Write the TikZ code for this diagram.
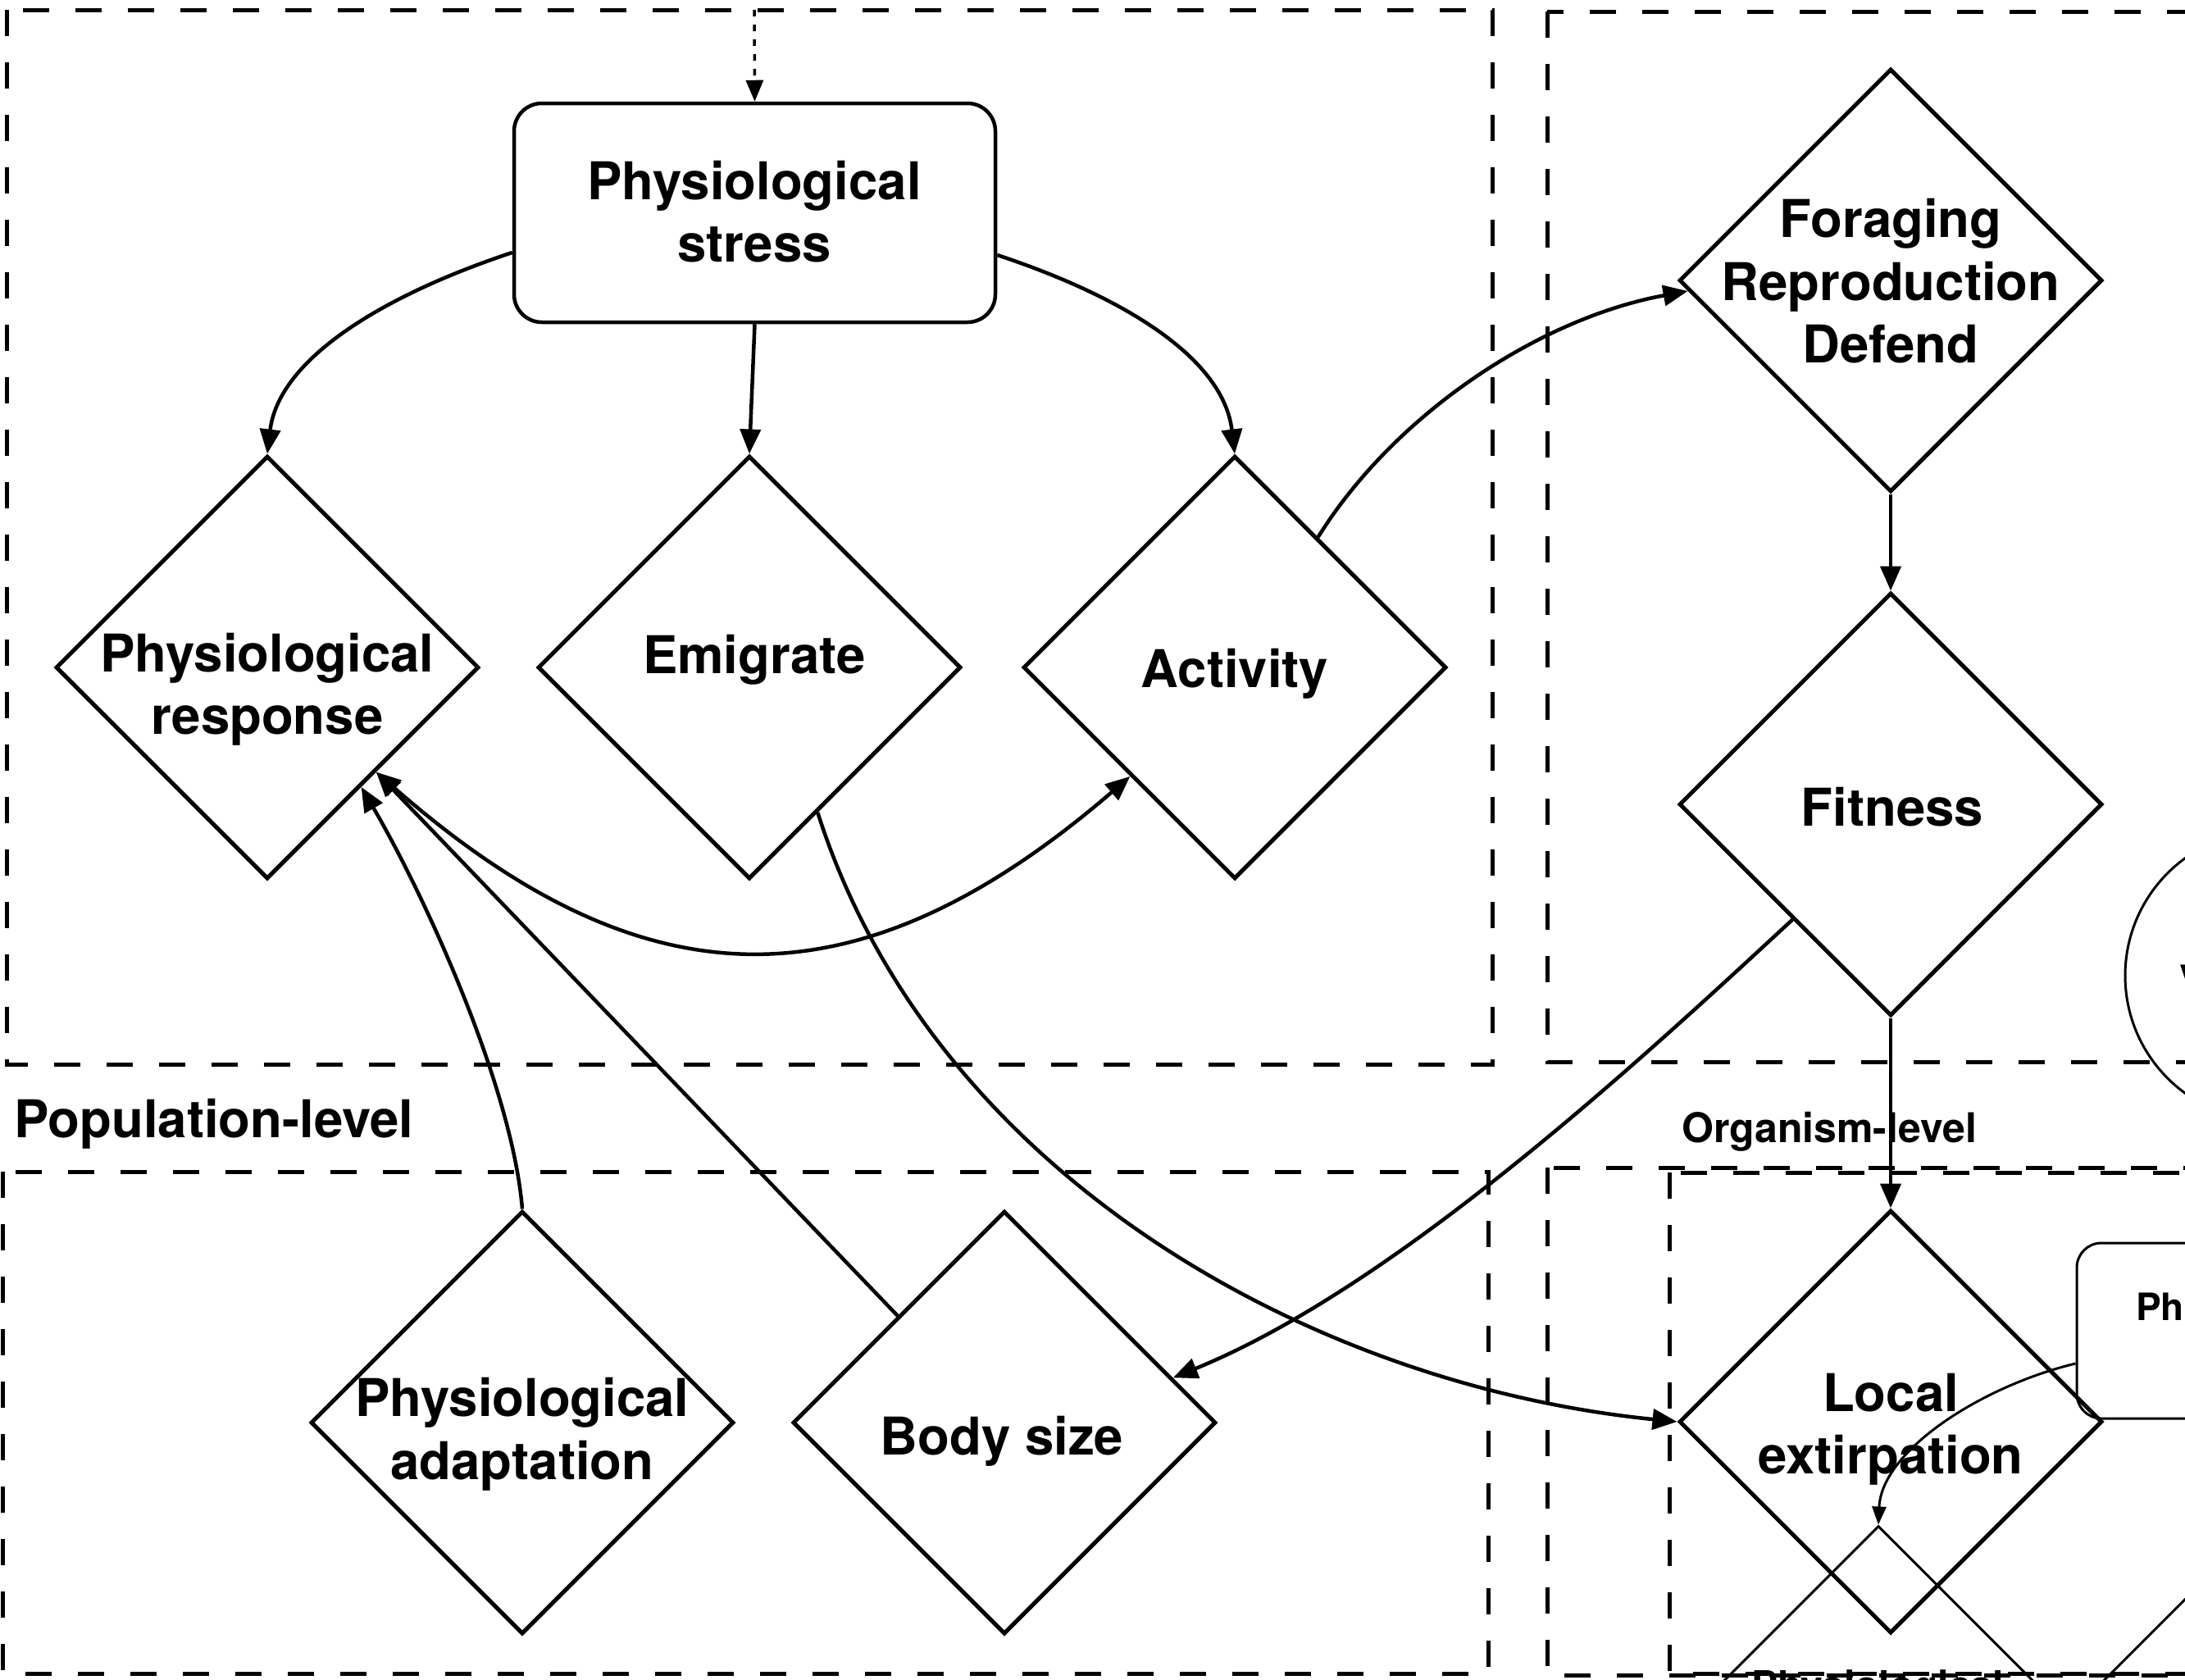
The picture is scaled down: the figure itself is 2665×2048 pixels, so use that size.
\documentclass[tikz,border=0pt]{standalone}
\usepackage{fontspec}
\setmainfont{TeX Gyre Heros}
\usetikzlibrary{arrows.meta,shapes.geometric,calc}
\begin{document}
\begin{tikzpicture}[x=1pt,y=-1pt,
  dia/.style={draw,diamond,aspect=1,inner sep=0pt,minimum width=516pt,minimum height=516pt,line width=5pt},
  thindia/.style={draw,diamond,aspect=1,inner sep=0pt,minimum width=516pt,minimum height=516pt,line width=3pt},
  stressbox/.style={draw,rectangle,rounded corners=34pt,minimum width=587pt,minimum height=267pt,inner sep=0pt,line width=4.5pt},
  lbl/.style={font=\fontsize{63.5}{76.5}\selectfont\bfseries,align=center,inner sep=0pt},
  smalllbl/.style={font=\fontsize{46}{55}\selectfont\bfseries,inner sep=0pt},
  grp/.style={dash pattern=on 32pt off 32pt,line width=5pt},
  conn/.style={line width=4.5pt,-{Triangle[length=30pt,width=25pt]}},
  biconn/.style={line width=4.5pt,{Triangle[length=30pt,width=25pt]}-{Triangle[length=30pt,width=25pt]}},
  dotconn/.style={line width=3.5pt,dash pattern=on 8pt off 10pt,-{Triangle[length=26pt,width=21pt]}},
  thinconn/.style={line width=3pt,-{Triangle[length=22pt,width=17pt]}}
]
\useasboundingbox (0,0) rectangle (2665,2048);
\clip (0,0) rectangle (2665,2048);

% group frames
\draw[grp] (8,12) rectangle (1820,1298);
\draw[grp] (1887,14) rectangle (2760,1295);
\draw[grp] (3,1429) rectangle (1815,2041);
\draw[grp] (1887,1424) rectangle (2760,2043);
\draw[grp] (2036,1430) rectangle (2760,2041);

% level labels
\node[lbl,anchor=west] (poplev) at (17,1371) {Population-level};
\node[font=\fontsize{50}{60}\selectfont\bfseries,inner sep=0pt] (orglev) at (2231,1380) {Organism-level};

% main nodes
\node[stressbox] (stress) at (920.5,259.5) {};
\node[lbl] (stresst) at (920,258) {Physiological\\stress};
\node[dia] (pr) at (326,814) {};
\node[lbl] (prt) at (326,841) {Physiological\\response};
\node[dia] (emi) at (914,814) {};
\node[lbl] (emit) at (920,805) {Emigrate};
\node[dia] (act) at (1506,814) {};
\node[lbl] (actt) at (1506,822) {Activity};
\node[dia] (for) at (2306,342) {};
\node[lbl] (fort) at (2306,343) {Foraging\\Reproduction\\Defend};
\node[dia] (fit) at (2306,981) {};
\node[lbl] (fitt) at (2308,984) {Fitness};
\node[dia] (le) at (2306,1734) {};
\node[lbl] (let) at (2306,1743) {Local\\extirpation};
\node[dia] (pa) at (637,1735) {};
\node[lbl] (pat) at (637,1749) {Physiological\\adaptation};
\node[dia] (bod) at (1225,1735) {};
\node[lbl] (bodt) at (1222,1758) {Body size};

% partial elements on the right edge
\node[draw,circle,line width=3pt,minimum size=354pt,inner sep=0pt] (vc) at (2769,1190) {};
\node[smalllbl,anchor=base west] (vct) at (2658,1210) {V};
\node[draw,rectangle,rounded corners=30pt,minimum width=587pt,minimum height=214pt,inner sep=0pt,line width=3pt] (pb) at (2826.5,1623) {};
\node[smalllbl,anchor=base west] (pbt) at (2605,1610) {Ph};
\node[thindia] (pd1) at (2291,2119) {};
\node[thindia] (pd2) at (2720,2153) {};
\node[font=\fontsize{48}{58}\selectfont\bfseries,inner sep=0pt,anchor=base] (pd1t) at (2290,2072) {Physiological};

% connectors
\coordinate (topin) at (920,12);
\draw[dotconn] (topin) -- (stress.north);
\draw[conn] ([yshift=-48.5pt]stress.west) .. controls +(-157,52) and +(14,-116) .. (pr.north);
\draw[conn] (stress.south) -- (emi.north);
\draw[conn] ([yshift=-51.5pt]stress.east) .. controls +(157,52) and +(-14,-116) .. (act.north);
\draw[conn] ($(act.north)!0.39!(act.east)$) .. controls +(94,-151) and +(-180,33) .. ($(for.west)!0.05!(for.south)$);
\draw[conn] (for.south) -- (fit.north);
\draw[conn] (fit.south) -- (le.north);
\draw[conn] ($(fit.south)!0.46!(fit.west)$) .. controls +(-187,173) and +(272,-111) .. ($(bod.north)!0.79!(bod.east)$);
\draw[conn] ($(emi.east)!0.68!(emi.south)$) .. controls +(140,440) and +(-448,-45) .. (le.west);
\draw[biconn] ($(pr.east)!0.49!(pr.south)$) .. controls +(330,289) and +(-330,284) .. ($(act.west)!0.51!(act.south)$);
\draw[conn] (pa.north) .. controls +(-12,-147) and +(80,137) .. ($(pr.east)!0.56!(pr.south)$);
\draw[conn] ($(bod.north)!0.5!(bod.west)$) -- ($(pr.east)!0.49!(pr.south)$);
\draw[thinconn] ([yshift=-40pt]pb.west) .. controls +(-113,27) and +(4,-91) .. (pd1.north);
\end{tikzpicture}
\end{document}
